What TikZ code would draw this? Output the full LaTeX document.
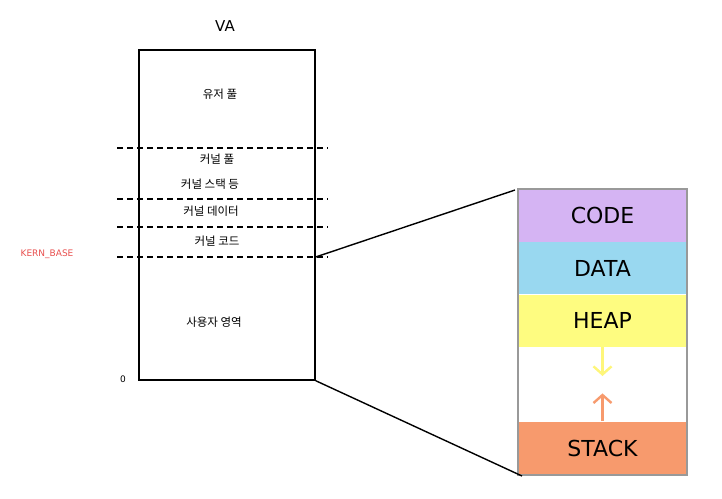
\documentclass[tikz,border=0pt]{standalone}
\usepackage{fontspec}
\setmainfont{DejaVu Sans}
\newfontfamily\krfont{Noto Sans CJK KR}
\usepackage{tikz}
\usetikzlibrary{positioning}
\usetikzlibrary{arrows.meta}
\definecolor{codecol}{HTML}{D5B4F3}
\definecolor{datacol}{HTML}{99D8F0}
\definecolor{heapcol}{HTML}{FEFC80}
\definecolor{stackcol}{HTML}{F79A6D}
\definecolor{kerncol}{HTML}{E8504F}
\tikzstyle{vabox}=[draw, line width=1.4pt, inner sep=0, minimum width=176pt, minimum height=330pt]
\tikzstyle{krlabel}=[font=\krfont\fontsize{11.5}{13}\selectfont, inner sep=0]
\tikzstyle{dashline}=[line width=1.4pt, dash pattern=on 6pt off 4pt]
\tikzstyle{segment}=[draw=none, inner sep=0, minimum width=168pt, font=\fontsize{22}{25}\selectfont]
\tikzstyle{growarrow}=[line width=2.6pt, -{Straight Barb[length=8pt, width=18pt, line width=2.4pt]}]
\begin{document}
\begin{tikzpicture}[x=1pt, y=-1pt]
    \useasboundingbox (0,0) rectangle (722,498);
    \node[font=\fontsize{15}{18}\selectfont] (title) at (225,26) {VA};
    \node[vabox] (va) at (227,215) {};
    % region boundaries
    \foreach \y in {148,199,227,257}
        \draw[dashline] (117,\y) -- (328,\y);
    \node[krlabel] (upool)  at (220,94)  {유저 풀};
    \node[krlabel] (kpool)  at (217,159) {커널 풀};
    \node[krlabel] (kstack) at (210,184) {커널 스택 등};
    \node[krlabel] (kdata)  at (211,211) {커널 데이터};
    \node[krlabel] (kcode)  at (217,241) {커널 코드};
    \node[krlabel] (uarea)  at (214,322) {사용자 영역};
    \node[text=kerncol, font=\fontsize{9}{10}\selectfont] (kbase) at (47,254) {KERN\_BASE};
    \node[font=\fontsize{9}{10}\selectfont] (zero) at (123,379) {0};
    % process layout
    \node[segment, fill=codecol, minimum height=53pt] (code) at (602.5,215.5) {CODE};
    \node[segment, fill=datacol, minimum height=52pt, below=0pt of code] (data) {DATA};
    \node[segment, fill=heapcol, minimum height=52pt, below=0pt of data] (heap) {HEAP};
    \node[segment, fill=white, minimum height=74pt, below=0pt of heap] (gap) {};
    \node[segment, fill=stackcol, minimum height=53pt, below=0pt of gap] (stack) {STACK};
    \draw[gray!80, line width=2pt] (code.north west) rectangle (stack.south east);
    \draw[growarrow, heapcol!95!orange] (heap.south) -- +(0,29);
    \draw[growarrow, stackcol] (stack.north) -- +(0,-28);
    \coordinate (zoomtop) at (515,190);
    \coordinate (zoombot) at (522,476);
    \draw[line width=1.4pt] (va.east |- 0,257) -- (zoomtop);
    \draw[line width=1.4pt] (va.south east) -- (zoombot);
\end{tikzpicture}
\end{document}
